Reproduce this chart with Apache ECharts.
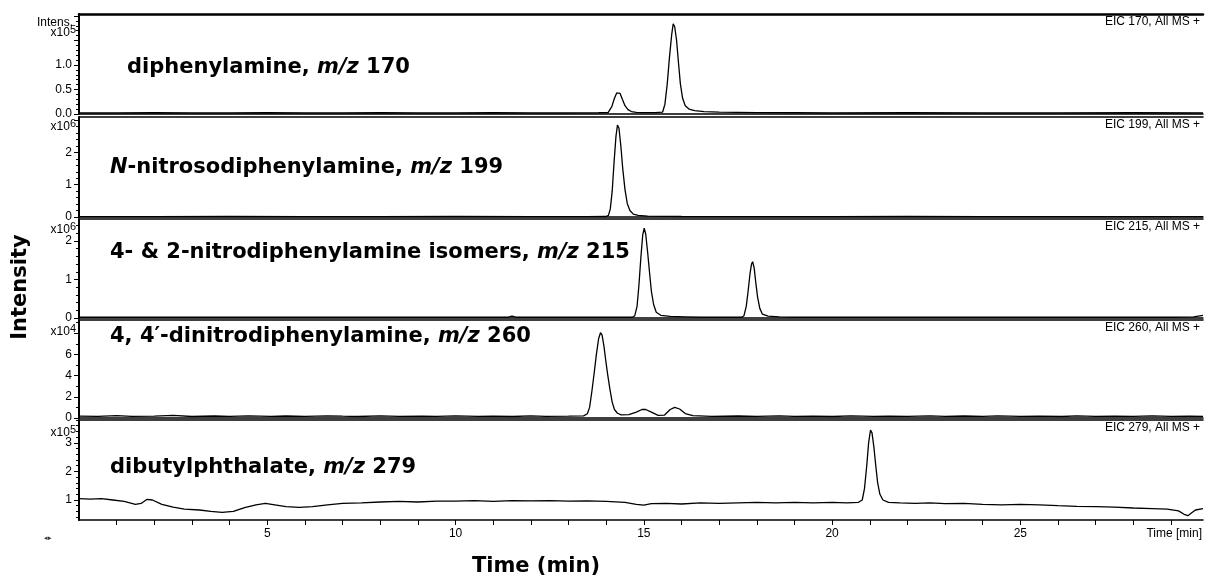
<!DOCTYPE html>
<html>
<head>
<meta charset="utf-8">
<script src="https://cdn.jsdelivr.net/npm/echarts@6/dist/echarts.min.js"></script>
<style>
  html, body { margin: 0; padding: 0; background: #fff; }
  #main { width: 1205px; height: 579px; }
</style>
</head>
<body>
<div id="main"></div>
<script>
// retention time (min) / intensity pairs
var eic170 = [[0,0.02],[1,0.02],[2,0.025],[3,0.02],[4,0.02],[5,0.025],[6,0.02],[7,0.02],[8,0.025],[9,0.02],[10,0.02],[11,0.025],[12,0.02],[13,0.02],[13.8,0.025],[14.05,0.03],[14.1,0.06],[14.15,0.15],[14.22,0.32],[14.28,0.43],[14.32,0.45],[14.37,0.42],[14.43,0.3],[14.5,0.17],[14.58,0.09],[14.67,0.05],[14.8,0.035],[15.0,0.03],[15.3,0.03],[15.5,0.04],[15.56,0.2],[15.62,0.6],[15.68,1.15],[15.74,1.62],[15.78,1.84],[15.82,1.78],[15.87,1.5],[15.92,1.05],[15.97,0.62],[16.03,0.32],[16.1,0.17],[16.2,0.1],[16.35,0.07],[16.6,0.05],[17,0.04],[18,0.03],[19,0.025],[20,0.02],[22,0.025],[24,0.02],[26,0.02],[28,0.025],[29.85,0.02]];
var eic199 = [[0,0.01],[2,0.01],[4,0.015],[6,0.01],[8,0.01],[10,0.015],[12,0.01],[13.5,0.01],[14.0,0.015],[14.06,0.05],[14.11,0.25],[14.16,0.8],[14.21,1.7],[14.26,2.5],[14.3,2.85],[14.34,2.75],[14.39,2.2],[14.44,1.5],[14.5,0.85],[14.56,0.42],[14.63,0.2],[14.72,0.09],[14.85,0.05],[15.1,0.03],[15.5,0.02],[16,0.015],[18,0.01],[20,0.01],[22,0.015],[24,0.01],[26,0.01],[28,0.01],[29.85,0.01]];
var eic215 = [[0,0.02],[2,0.02],[4,0.025],[6,0.02],[8,0.02],[10,0.02],[11.4,0.02],[11.5,0.05],[11.6,0.02],[13,0.02],[14,0.02],[14.7,0.02],[14.76,0.06],[14.82,0.3],[14.87,0.85],[14.92,1.55],[14.97,2.15],[15.01,2.33],[15.05,2.18],[15.1,1.72],[15.15,1.2],[15.2,0.7],[15.26,0.35],[15.33,0.15],[15.45,0.07],[15.7,0.04],[16.1,0.03],[16.5,0.02],[17.6,0.02],[17.66,0.06],[17.72,0.3],[17.77,0.7],[17.82,1.15],[17.86,1.4],[17.89,1.46],[17.93,1.3],[17.97,0.95],[18.02,0.55],[18.08,0.25],[18.15,0.1],[18.3,0.05],[18.6,0.03],[19,0.02],[21,0.02],[23,0.02],[25,0.02],[27,0.02],[29,0.02],[29.6,0.03],[29.85,0.07]];
var eic260 = [[0,0.18],[0.5,0.15],[1,0.22],[1.4,0.16],[2,0.18],[2.5,0.24],[3,0.14],[3.6,0.19],[4,0.15],[4.5,0.2],[5.1,0.15],[5.5,0.19],[6,0.15],[6.6,0.21],[7,0.17],[7.4,0.14],[8,0.2],[8.5,0.15],[9.1,0.18],[9.5,0.15],[10,0.21],[10.6,0.15],[11,0.18],[11.5,0.14],[12,0.2],[12.4,0.16],[13,0.18],[13.4,0.2],[13.5,0.4],[13.56,1.0],[13.62,2.5],[13.68,4.2],[13.74,6.0],[13.8,7.5],[13.85,8.05],[13.89,7.85],[13.94,6.8],[13.99,5.4],[14.04,4.1],[14.1,2.7],[14.16,1.5],[14.22,0.8],[14.3,0.45],[14.4,0.3],[14.6,0.32],[14.8,0.55],[14.95,0.8],[15.05,0.8],[15.2,0.55],[15.38,0.25],[15.55,0.28],[15.7,0.8],[15.82,1.0],[15.95,0.85],[16.1,0.42],[16.3,0.22],[16.8,0.16],[17.5,0.19],[18,0.15],[18.6,0.2],[19,0.15],[19.5,0.18],[20,0.14],[20.5,0.2],[21.1,0.15],[21.5,0.18],[22,0.15],[22.6,0.2],[23,0.15],[23.5,0.19],[24,0.15],[24.4,0.2],[25,0.15],[25.5,0.18],[26.1,0.14],[26.5,0.2],[27,0.15],[27.5,0.18],[28,0.15],[28.5,0.2],[29,0.15],[29.5,0.18],[29.85,0.15]];
var eic279 = [[0,1.05],[0.3,1.03],[0.6,1.05],[0.9,1.0],[1.2,0.95],[1.5,0.85],[1.65,0.88],[1.8,1.02],[1.95,1.0],[2.2,0.85],[2.5,0.75],[2.8,0.68],[3.2,0.65],[3.5,0.6],[3.8,0.57],[4.1,0.6],[4.4,0.73],[4.7,0.83],[4.95,0.88],[5.2,0.83],[5.5,0.77],[5.85,0.74],[6.2,0.77],[6.6,0.83],[7.0,0.88],[7.5,0.9],[8,0.93],[8.5,0.95],[9,0.93],[9.5,0.96],[10,0.96],[10.5,0.98],[11,0.95],[11.5,0.98],[12,0.97],[12.5,0.98],[13,0.96],[13.5,0.97],[14,0.95],[14.5,0.92],[14.8,0.85],[15,0.82],[15.2,0.87],[15.6,0.88],[16,0.86],[16.5,0.9],[17,0.88],[17.5,0.9],[18,0.92],[18.5,0.9],[19,0.92],[19.5,0.9],[20,0.92],[20.4,0.9],[20.7,0.92],[20.8,1.0],[20.86,1.4],[20.92,2.2],[20.97,3.0],[21.02,3.45],[21.06,3.35],[21.11,2.85],[21.16,2.2],[21.21,1.6],[21.27,1.2],[21.35,1.0],[21.5,0.92],[21.8,0.9],[22.2,0.88],[22.6,0.9],[23,0.87],[23.5,0.88],[24,0.85],[24.5,0.83],[25,0.85],[25.5,0.83],[26,0.8],[26.5,0.78],[27,0.77],[27.5,0.75],[28,0.72],[28.5,0.7],[28.9,0.68],[29.2,0.62],[29.35,0.5],[29.45,0.45],[29.55,0.55],[29.65,0.65],[29.85,0.7]];

var traces = [eic170, eic199, eic215, eic260, eic279];
var eicNames = ['EIC 170, All MS +', 'EIC 199, All MS +', 'EIC 215, All MS +', 'EIC 260, All MS +', 'EIC 279, All MS +'];
var exponents = ['5', '6', '6', '4', '5'];
var yMin = [0, 0, 0, 0, 0.3];
var yMax = [2.04, 3.1, 2.57, 9.25, 3.8];
var yLabelValues = [[0, 0.5, 1], [0, 1, 2], [0, 1, 2], [0, 2, 4, 6], [1, 2, 3]];
var yMajorTicks = [[0, 0.5, 1, 1.5, 2], [0, 1, 2, 3], [0, 1, 2], [0, 2, 4, 6, 8], [1, 2, 3]];
var yMinorStep = [0.1, 0.2, 0.2, 1, 0.2];
var xLabelValues = [5, 10, 15, 20, 25];
var xTickValues = [1,2,3,4,5,6,7,8,9,10,11,12,13,14,15,16,17,18,19,20,21,22,23,24,25,26,27,28,29];

// layout of the stacked panels
var gridTops = [14, 117, 219, 320, 420];
var gridHeights = [100, 100, 99, 98, 100];
var labelY = [68, 168, 253, 337, 468];
var labelX = [127, 110, 110, 110, 110];
var expY = [33, 127, 230, 332, 433];

var FONT = '"Liberation Sans", Arial, sans-serif';
var BOLD = '"DejaVu Sans", sans-serif';

function minorTicks(lo, hi, step) {
  var out = [];
  for (var v = Math.ceil(lo / step - 1e-9) * step; v <= hi + 1e-9; v += step) {
    out.push(Math.round(v * 1000) / 1000);
  }
  return out;
}

var grids = [], xAxes = [], yAxes = [], series = [];
for (var i = 0; i < 5; i++) {
  var last = i === 4;
  grids.push({ left: 79, right: 2, top: gridTops[i], height: gridHeights[i] });
  xAxes.push({
    type: 'value', gridIndex: i, position: 'bottom', min: 0, max: 29.85,
    axisLine: { onZero: false, lineStyle: { color: '#000', width: 1.5 } },
    axisTick: { show: last, length: 5, customValues: xTickValues, lineStyle: { color: '#000' } },
    axisLabel: { show: last, customValues: xLabelValues, margin: 8, color: '#000', fontSize: 12, fontFamily: FONT },
    splitLine: { show: false }
  });
  xAxes.push({
    type: 'value', gridIndex: i, position: 'top', min: 0, max: 29.85,
    axisLine: { onZero: false, lineStyle: { color: '#000', width: i === 0 ? 2.5 : 1.5 } },
    axisTick: { show: false }, axisLabel: { show: false }, splitLine: { show: false }
  });
  yAxes.push({
    type: 'value', gridIndex: i, position: 'left', min: yMin[i], max: yMax[i],
    axisLine: { show: true, lineStyle: { color: '#000', width: 2 } },
    axisTick: { show: true, length: 5, customValues: yMajorTicks[i], lineStyle: { color: '#000' } },
    axisLabel: {
      customValues: yLabelValues[i], margin: 7, color: '#000', fontSize: 12, fontFamily: FONT,
      formatter: i === 0 ? function (v) { return v.toFixed(1); } : '{value}'
    },
    splitLine: { show: false }
  });
  yAxes.push({
    type: 'value', gridIndex: i, position: 'left', min: yMin[i], max: yMax[i],
    axisLine: { show: false },
    axisTick: { show: true, length: 3, customValues: minorTicks(yMin[i], yMax[i], yMinorStep[i]), lineStyle: { color: '#000' } },
    axisLabel: { show: false }, splitLine: { show: false }
  });
  series.push({
    type: 'line', xAxisIndex: 2 * i, yAxisIndex: 2 * i, data: traces[i],
    showSymbol: false, symbol: 'none', animation: false,
    lineStyle: { color: '#000', width: 1.3 }
  });
}

var panelTexts = [
  '{b|diphenylamine, }{i|m/z}{b| 170}',
  '{i|N}{b|-nitrosodiphenylamine, }{i|m/z}{b| 199}',
  '{b|4- & 2-nitrodiphenylamine isomers, }{i|m/z}{b| 215}',
  '{b|4, 4\u2032-dinitrodiphenylamine, }{i|m/z}{b| 260}',
  '{b|dibutylphthalate, }{i|m/z}{b| 279}'
];
var rich = {
  b: { fontFamily: BOLD, fontWeight: 'bold', fontSize: 21, fill: '#000' },
  i: { fontFamily: BOLD, fontWeight: 'bold', fontStyle: 'italic', fontSize: 21, fill: '#000' }
};

var graphics = [];
for (var k = 0; k < 5; k++) {
  graphics.push({
    type: 'text', x: labelX[k], y: labelY[k],
    style: { text: panelTexts[k], rich: rich, verticalAlign: 'middle', align: 'left' }
  });
  graphics.push({
    type: 'text', x: 1200, y: gridTops[k] + 8,
    style: { text: eicNames[k], align: 'right', verticalAlign: 'middle', fontFamily: FONT, fontSize: 12, fill: '#000' }
  });
  graphics.push({
    type: 'text', x: 76, y: expY[k],
    style: {
      text: '{a|x10}{s|' + exponents[k] + '}', align: 'right', verticalAlign: 'middle',
      rich: {
        a: { fontFamily: FONT, fontSize: 12, fill: '#000' },
        s: { fontFamily: FONT, fontSize: 11, fill: '#000', padding: [0, 0, 7, 0] }
      }
    }
  });
}
graphics.push({
  type: 'text', x: 73, y: 23,
  style: { text: 'Intens.', align: 'right', verticalAlign: 'middle', fontFamily: FONT, fontSize: 12, fill: '#000' }
});
graphics.push({
  type: 'text', x: 1202, y: 534,
  style: { text: 'Time [min]', align: 'right', verticalAlign: 'middle', fontFamily: FONT, fontSize: 12, fill: '#000' }
});
graphics.push({
  type: 'text', x: 48, y: 538,
  style: { text: '\u25c2\u25b8', align: 'center', verticalAlign: 'middle', fontFamily: FONT, fontSize: 7, fill: '#333' }
});
graphics.push({
  type: 'text', x: 536, y: 567,
  style: { text: 'Time (min)', align: 'center', verticalAlign: 'middle', fontFamily: BOLD, fontWeight: 'bold', fontSize: 21, fill: '#000' }
});
graphics.push({
  type: 'text', x: 21, y: 287, rotation: Math.PI / 2,
  style: { text: 'Intensity', align: 'center', verticalAlign: 'middle', fontFamily: BOLD, fontWeight: 'bold', fontSize: 21, fill: '#000' }
});

var chartDom = document.getElementById('main');
var myChart = echarts.init(chartDom);
var option = {
  backgroundColor: '#fff',
  animation: false,
  grid: grids,
  xAxis: xAxes,
  yAxis: yAxes,
  series: series,
  graphic: graphics
};
myChart.setOption(option);
</script>
</body>
</html>
